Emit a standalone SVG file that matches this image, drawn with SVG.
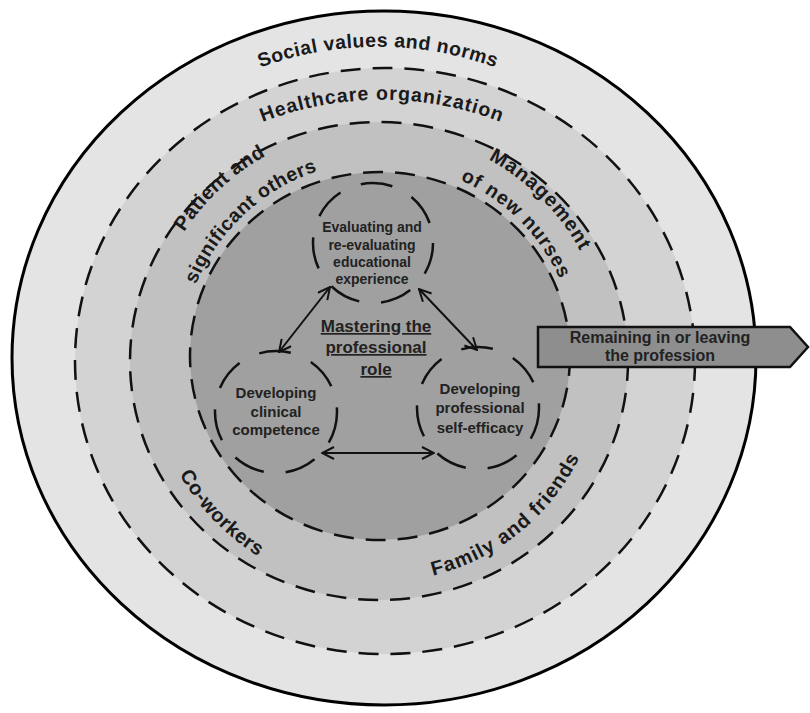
<svg xmlns="http://www.w3.org/2000/svg" width="810" height="713" viewBox="0 0 810 713">
<style>
.ring{stroke:#111;stroke-width:2.5;stroke-dasharray:20 12;}
.node{fill:none;stroke:#111;stroke-width:2.5;stroke-dasharray:32 22;}
.lbl{font-family:"Liberation Sans",Arial,sans-serif;font-weight:bold;fill:#1a1a1a;}
.ntx{font-family:"Liberation Sans",Arial,sans-serif;font-weight:bold;fill:#222;text-anchor:middle;}
.conn{stroke:#111;stroke-width:2;fill:none;marker-start:url(#ah);marker-end:url(#ah);}
</style>
<defs>
<marker id="ah" viewBox="0 0 14 14" refX="13" refY="7" markerWidth="14" markerHeight="14" markerUnits="userSpaceOnUse" orient="auto-start-reverse">
<path d="M1,1 L13,7 L1,13" fill="none" stroke="#111" stroke-width="2"/>
</marker>
<path id="p-social" d="M181,109 A343,343 0 0 1 575,109"/>
<path id="p-health" d="M217,144 A330,330 0 0 1 547,144"/>
<path id="p-patient" d="M147.8,331.5 A234,234 0 0 1 367.8,126.3"/>
<path id="p-signif" d="M182.5,335.7 A199,199 0 0 1 369.6,161.3"/>
<path id="p-manage" d="M399.9,132.9 A228,228 0 0 1 607.1,340.1"/>
<path id="p-ofnew" d="M397.2,163.7 A197,197 0 0 1 576.3,342.8"/>
<path id="p-cowork" d="M149.6,376 A231,231 0 0 0 356,589.7"/>
<path id="p-family" d="M376.1,582 A222,222 0 0 0 597.9,402.4"/>
</defs>
<rect width="810" height="713" fill="#fff"/>
<g id="rings">
<ellipse id="ring-social" cx="384" cy="358" rx="372" ry="347" fill="#e4e4e4" stroke="#000" stroke-width="3"/>
<ellipse id="ring-health" class="ring" cx="385" cy="361" rx="310" ry="293" fill="#d3d3d3"/>
<ellipse id="ring-people" class="ring" cx="379" cy="361" rx="249" ry="239" fill="#c1c1c1"/>
<ellipse id="ring-core" class="ring" cx="380" cy="356" rx="190" ry="184" fill="#a0a0a0"/>
</g>
<g id="ring-labels" class="lbl">
<text font-size="19.5" letter-spacing="0.5"><textPath href="#p-social" startOffset="50%" text-anchor="middle">Social values and norms</textPath></text>
<text font-size="19.5" letter-spacing="1"><textPath href="#p-health" startOffset="50%" text-anchor="middle">Healthcare organization</textPath></text>
<text font-size="20" letter-spacing="0.5"><textPath href="#p-patient" startOffset="50%" text-anchor="middle">Patient and</textPath></text>
<text font-size="19.5" letter-spacing="0.5"><textPath href="#p-signif" startOffset="50%" text-anchor="middle">significant others</textPath></text>
<text font-size="20" letter-spacing="1"><textPath href="#p-manage" startOffset="50%" text-anchor="middle">Management</textPath></text>
<text font-size="19.5" letter-spacing="1"><textPath href="#p-ofnew" startOffset="50%" text-anchor="middle">of new nurses</textPath></text>
<text font-size="20" letter-spacing="0.5"><textPath href="#p-cowork" startOffset="50%" text-anchor="middle">Co-workers</textPath></text>
<text font-size="20" letter-spacing="1"><textPath href="#p-family" startOffset="50%" text-anchor="middle">Family and friends</textPath></text>
</g>
<g id="node-evaluating">
<circle class="node" cx="373" cy="243" r="60"/>
<text class="ntx" font-size="14"><tspan x="372" y="232">Evaluating and</tspan><tspan x="372" y="250">re-evaluating</tspan><tspan x="372" y="267">educational</tspan><tspan x="372" y="284">experience</tspan></text>
</g>
<g id="node-clinical">
<circle class="node" cx="276" cy="412" r="61"/>
<text class="ntx" font-size="15"><tspan x="276" y="398">Developing</tspan><tspan x="276" y="417">clinical</tspan><tspan x="276" y="435">competence</tspan></text>
</g>
<g id="node-selfefficacy">
<circle class="node" cx="478" cy="408" r="61"/>
<text class="ntx" font-size="15"><tspan x="480" y="394">Developing</tspan><tspan x="480" y="413">professional</tspan><tspan x="480" y="433">self-efficacy</tspan></text>
</g>
<g id="node-mastering">
<text class="ntx" font-size="17" text-decoration="underline"><tspan x="376" y="332">Mastering the</tspan><tspan x="376" y="353">professional</tspan><tspan x="376" y="375">role</tspan></text>
</g>
<g id="connectors">
<line class="conn" x1="330" y1="287" x2="279" y2="352"/>
<line class="conn" x1="419" y1="289" x2="477" y2="350"/>
<line class="conn" x1="322" y1="453" x2="434" y2="453"/>
</g>
<g id="node-outcome">
<path d="M538,327 L790,327 L808,347 L790,367 L538,367 Z" fill="#8e8e8e" stroke="#111" stroke-width="2.5"/>
<text class="ntx" font-size="16"><tspan x="660" y="343">Remaining in or leaving</tspan><tspan x="660" y="361">the profession</tspan></text>
</g>
</svg>
